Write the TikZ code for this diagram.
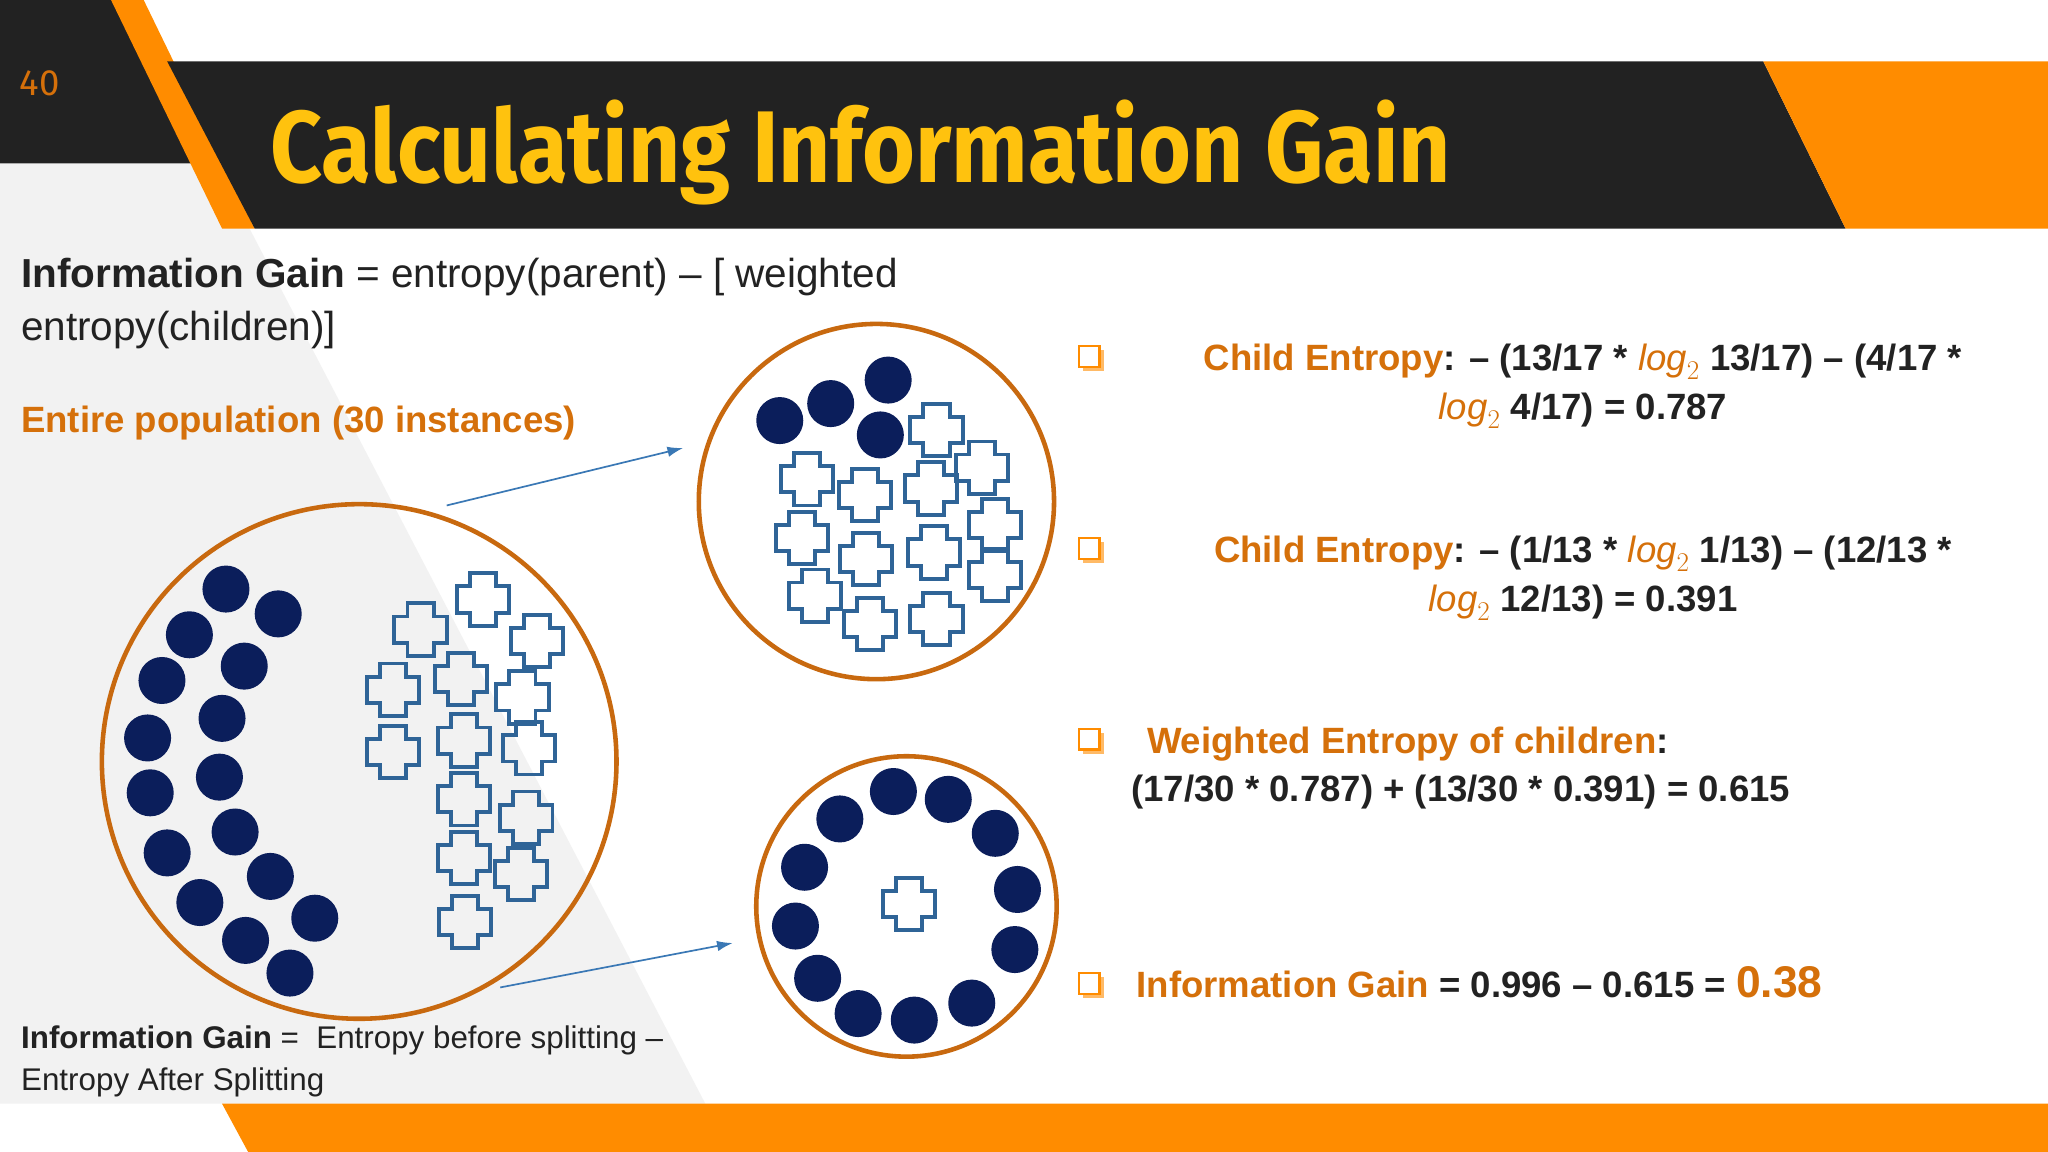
\documentclass[tikz,border=0pt]{standalone}
\usepackage{fontspec}
\setmainfont{Liberation Sans}
\newfontfamily\ttlfont{Fira Sans}
\definecolor{org}{HTML}{FF8C00}
\definecolor{otxt}{HTML}{D5700A}
\definecolor{ring}{HTML}{C8690F}
\definecolor{navy}{HTML}{0B1E5B}
\definecolor{crossc}{HTML}{2F6497}
\definecolor{ttl}{HTML}{FFC20E}
\definecolor{dark}{HTML}{222222}
\definecolor{band}{HTML}{222222}
\definecolor{arr}{HTML}{3A78B5}
\newcommand{\fs}[1]{\fontsize{#1}{#1}\selectfont}
\newcommand{\lgt}{\textcolor{otxt}{$\mathit{log}_2$}}
\usetikzlibrary{arrows.meta}
\tikzset{
 dot/.style={fill=navy,circle,minimum size=36pt,inner sep=0pt},
 ringc/.style={draw=ring,line width=3.5pt},
 arrw/.style={draw=arr,line width=1.3pt,-{Latex[length=12pt,width=8pt]}},
 txt/.style={inner sep=0pt,anchor=base west,text=dark},
}
\newcommand{\crs}[2]{\draw[crossc,line width=3pt] (#1-10,#2-20) -- (#1+10,#2-20) -- (#1+10,#2-10) -- (#1+20,#2-10) -- (#1+20,#2+10) -- (#1+10,#2+10) -- (#1+10,#2+20) -- (#1-10,#2+20) -- (#1-10,#2+10) -- (#1-20,#2+10) -- (#1-20,#2-10) -- (#1-10,#2-10) -- cycle;}
\newcommand{\bx}[2]{\fill[org!60] (#1+3,#2-5) rectangle (#1+19,#2+11);\fill[white] (#1,#2-8) rectangle (#1+16,#2+8);\draw[org,line width=2pt] (#1,#2-8) rectangle (#1+16,#2+8);}
\begin{document}
\begin{tikzpicture}[x=1pt,y=-1pt]
\useasboundingbox (0,0) rectangle (1568,882);
\fill[white] (0,0) rectangle (1568,882);
\fill[black!5] (0,125) -- (165,125) -- (540,845) -- (0,845) -- cycle;
\fill[band] (0,0) -- (92,0) -- (160,125) -- (0,125) -- cycle;
\fill[org] (85,0) -- (110,0) -- (195,175) -- (170,175) -- cycle;
\fill[band] (128,47) -- (1350,47) -- (1413,175) -- (195,175) -- cycle;
\fill[org] (1350,47) -- (1568,47) -- (1568,175) -- (1413,175) -- cycle;
\fill[org] (170,845) -- (1568,845) -- (1568,882) -- (190,882) -- cycle;
\node[txt,text=otxt] (pg) at (15,73) {\ttlfont\fs{28}40};
\node[txt,text=ttl] (title) at (207,140) {\scalebox{0.89}[1]{\ttlfont\fs{78}\bfseries Calculating Information Gain}};
\node[txt] (d1) at (16,220) {\fs{31}\textbf{Information Gain} = entropy(parent) – [ weighted};
\node[txt] (d2) at (16,261) {\fs{31}entropy(children)]};
\node[txt,text=otxt] (ep) at (16,331) {\fs{28}\bfseries Entire population (30 instances)};
\node[txt] (b1) at (16,803) {\fs{24}\textbf{Information Gain} =\ \ Entropy before splitting –};
\node[txt] (b2) at (16,835) {\fs{24}Entropy After Splitting};
% circles
\draw[ringc] (275,583) circle (197);
\draw[ringc] (671,384) circle (136);
\draw[ringc] (694,694) circle (115);
\foreach \p in {(173,451),(213,470),(145,486),(187,510),(124,521),(170,550),(113,565),(168,595),(115,607),(180,637),(128,653),(207,671),(153,691),(241,703),(188,720),(222,745),
(680,291),(636,309),(597,322),(674,333),
(684,606),(726,612),(643,627),(762,638),(616,664),(779,681),(609,709),(777,727),(626,749),(744,768),(657,776),(700,781)}
  \node[dot] at \p {};
\foreach \x/\y in {370/459,322/482,411/491,301/528,353/520,400/534,355/567,405/573,301/576,355/612,403/626,355/657,399/669,356/706,
717/329,618/367,662/379,713/374,752/358,614/412,663/428,715/423,762/402,624/456,666/478,717/474,762/440,696/692}
  {\crs{\x}{\y}}
\coordinate (a1s) at (342,387); \coordinate (a1e) at (523,343);
\coordinate (a2s) at (383,756); \coordinate (a2e) at (561,722);
\draw[arrw] (a1s) -- (a1e);
\draw[arrw] (a2s) -- (a2e);
% right side
\bx{826}{273}\bx{826}{420}\bx{826}{566}\bx{826}{753}
\node[txt,anchor=base] (c1a) at (1212,284) {\fs{28}\bfseries\textcolor{otxt}{Child Entropy}: – (13/17 * \lgt\ 13/17) – (4/17 *};
\node[txt,anchor=base] (c1b) at (1212,321) {\fs{28}\bfseries\lgt\ 4/17) = 0.787};
\node[txt,anchor=base] (c2a) at (1212,431) {\fs{28}\bfseries\textcolor{otxt}{Child Entropy}: – (1/13 * \lgt\ 1/13) – (12/13 *};
\node[txt,anchor=base] (c2b) at (1212,468) {\fs{28}\bfseries\lgt\ 12/13) = 0.391};
\node[txt] (w1) at (878,577) {\fs{28}\bfseries\textcolor{otxt}{Weighted Entropy of children}:};
\node[txt] (w2) at (866,614) {\fs{28}\bfseries (17/30 * 0.787) + (13/30 * 0.391) = 0.615};
\node[txt] (ig) at (870,764) {\fs{28}\bfseries\textcolor{otxt}{Information Gain} = 0.996 – 0.615 = \textcolor{otxt}{\fs{34}0.38}};
\end{tikzpicture}
\end{document}
